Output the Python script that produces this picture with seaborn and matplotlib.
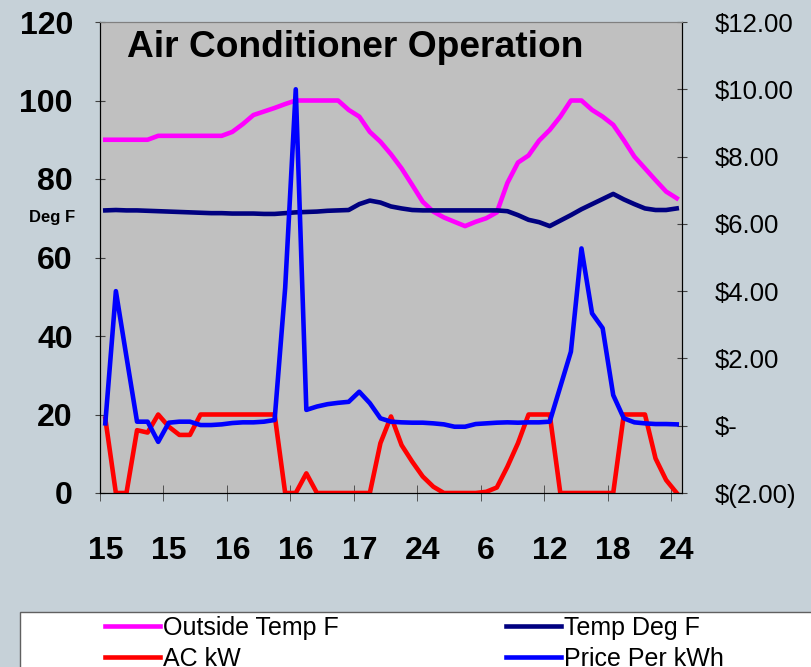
import numpy as np
import pandas as pd
import matplotlib
matplotlib.use("Agg")
import matplotlib.pyplot as plt
import seaborn as sns
from matplotlib.patches import Rectangle
from matplotlib.ticker import FixedLocator, FuncFormatter

# Hourly readings (55 points), labels every 6 points
outside_temp = [90, 90, 90, 90, 90,
                91, 91, 91, 91, 91, 91, 91,
                92, 94, 96.3, 97.2, 98.1, 99.1, 100,
                100, 100, 100, 100,
                97.6, 95.9, 92, 89.5, 86.3, 82.7, 78.5, 74.2, 71.7, 70.2,
                69.1, 68.0, 69.1, 70, 71.5, 79, 84.2, 86, 89.8, 92.5,
                95.9, 100, 100, 97.6, 95.9, 93.8, 89.9, 85.7, 82.7, 79.7,
                76.8, 75.1]
indoor_temp = [72, 72.1, 72, 72,
               71.9, 71.8, 71.7, 71.6, 71.5, 71.4, 71.3, 71.3, 71.2, 71.2,
               71.2, 71.1, 71.1,
               71.3, 71.5, 71.6, 71.7, 71.9, 72, 72.1, 73.6, 74.5, 74, 73,
               72.5, 72.1,
               72, 72, 72, 72, 72, 72, 72, 72,
               71.8, 70.8, 69.6, 69.0, 68.0, 69.4, 70.8, 72.3, 73.6, 74.9,
               76.2, 74.8, 73.6, 72.5, 72.1, 72.1, 72.5]
ac_kw = [19, 0, 0, 16, 15.4, 20, 16.9, 14.8, 14.8,
         20, 20, 20, 20, 20, 20, 20, 20,
         0, 0, 5, 0, 0, 0, 0, 0, 0,
         12.7, 19.5, 12.2, 8.0, 4.2, 1.6,
         0, 0, 0, 0,
         0.3, 1.4, 6.7, 12.7, 20, 20, 20,
         0, 0, 0, 0, 0, 0,
         20, 20, 20, 8.8, 3.3, 0]
price = [0.07, 4.0, 2.05, 0.12, 0.12, -0.48, 0.09, 0.12, 0.12, 0.02,
         0.02, 0.04, 0.08, 0.1, 0.1, 0.12, 0.17, 4.1, 10.0, 0.47,
         0.57, 0.64, 0.68, 0.71, 1.01, 0.67, 0.22, 0.12, 0.1, 0.09,
         0.09, 0.07, 0.04, -0.03, -0.03, 0.05, 0.07, 0.09, 0.1, 0.09,
         0.1, 0.1, 0.12, 1.16, 2.2, 5.27, 3.34, 2.9, 0.91, 0.22,
         0.1, 0.07, 0.05, 0.05, 0.04]
tick_labels = ['15', '15', '16', '16', '17', '24', '6', '12', '18', '24']

df = pd.DataFrame({'idx': np.arange(len(outside_temp)),
                   'Outside Temp F': outside_temp,
                   'Temp Deg F': indoor_temp,
                   'AC kW': ac_kw,
                   'Price Per kWh': price})

bg = '#C6D1D8'
plt.rcParams['font.family'] = ['Liberation Sans', 'DejaVu Sans']

fig = plt.figure(figsize=(8.12, 6.67), dpi=100, facecolor=bg)
ax = fig.add_axes([100 / 812, 1 - 493 / 667, 582 / 812, 471 / 667])
ax.set_facecolor('#C0C0C0')
ax2 = ax.twinx()

lw = 3.3
sns.lineplot(data=df, x='idx', y='Outside Temp F', ax=ax, color='#FF00FF', lw=lw, label='Outside Temp F')
sns.lineplot(data=df, x='idx', y='AC kW', ax=ax, color='#FF0000', lw=lw, label='AC kW')
sns.lineplot(data=df, x='idx', y='Temp Deg F', ax=ax, color='#000080', lw=lw, label='Temp Deg F')
sns.lineplot(data=df, x='idx', y='Price Per kWh', ax=ax2, color='#0000FF', lw=lw, label='Price Per kWh')

handles = ax.get_lines() + ax2.get_lines()
labels = [h.get_label() for h in handles]
ax.get_legend().remove()
ax2.get_legend().remove()

ax.set_xlim(-0.5, len(outside_temp) - 0.5)
ax.set_ylim(0, 120)
ax2.set_ylim(-2, 12)

ax.set_yticks(range(0, 121, 20))
ax.tick_params(axis='y', labelsize=23, direction='inout', length=7, pad=16, color='#404040')
for t in ax.get_yticklabels():
    t.set_fontweight('bold')

ax.set_xticks(range(0, len(outside_temp), 6))
ax.set_xticklabels(tick_labels, fontsize=23, fontweight='bold')
ax.tick_params(axis='x', length=0, pad=31)
ax.xaxis.set_minor_locator(FixedLocator(np.arange(-0.5, len(outside_temp), 6)))
ax.tick_params(axis='x', which='minor', direction='inout', length=12, color='#404040')

def money(v, pos):
    if abs(v) < 1e-9:
        return '$-'
    if v < 0:
        return '$({:.2f})'.format(-v)
    return '${:.2f}'.format(v)

ax2.set_yticks(range(-2, 13, 2))
ax2.yaxis.set_major_formatter(FuncFormatter(money))
ax2.tick_params(axis='y', labelsize=18.5, direction='inout', length=7, pad=20, color='#404040')

ax.set_xlabel('')
ax.set_ylabel('Deg F', rotation=0, fontsize=12, fontweight='bold', va='center', ha='center')
ax.yaxis.set_label_coords(-0.083, 0.584)
ax2.set_ylabel('')

for s in ['left', 'bottom']:
    ax.spines[s].set_color('black')
ax.spines['top'].set_color('#808080')
ax2.spines['top'].set_color('#808080')
ax2.spines['right'].set_color('black')

ax.text(0.046, 0.945, 'Air Conditioner Operation', transform=ax.transAxes,
        fontsize=26.7, fontweight='bold', ha='left', va='center')

# legend box running off the figure edge
fig.add_artist(Rectangle((20 / 812, -0.05), 1.0, (667 - 612) / 667 + 0.05,
                         transform=fig.transFigure, facecolor='white',
                         edgecolor='#606060', lw=1))
fig.legend(handles, labels, ncol=2, loc='upper left',
           bbox_to_anchor=(105 / 812, (667 - 616) / 667), frameon=False,
           fontsize=18, handlelength=2.2, handletextpad=0.12,
           columnspacing=6.7, labelspacing=0.26, borderpad=0, borderaxespad=0)

fig.savefig('out.png', dpi=100, facecolor=bg)
